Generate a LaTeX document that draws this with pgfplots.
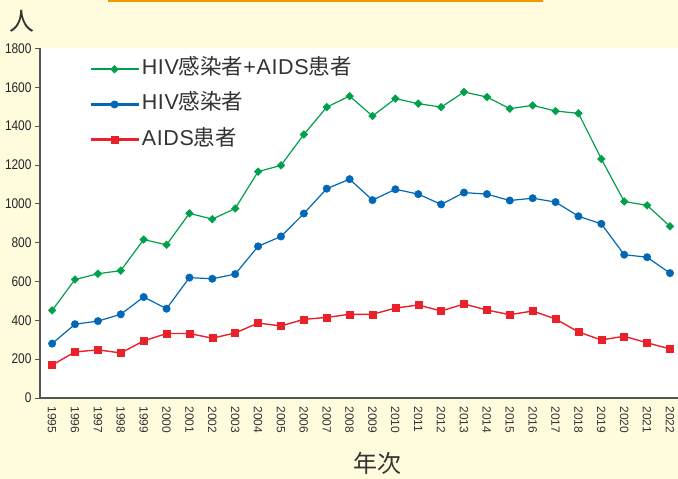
\documentclass[border=0pt]{standalone}
\usepackage{fontspec}
\setmainfont{Noto Sans CJK JP}
\newfontfamily\tickfont[FakeStretch=0.85]{Liberation Sans}
\newfontfamily\xtickfont{Liberation Sans}
\newfontfamily\lat[LetterSpace=3]{Liberation Sans}
\newcommand{\LL}[1]{{\lat #1}}
\usepackage{pgfplots}
\pgfplotsset{compat=1.18}
\definecolor{bgc}{HTML}{FFFBDD}
\definecolor{gr}{HTML}{00A04A}
\definecolor{bl}{HTML}{0068B7}
\definecolor{rd}{HTML}{E8212A}
\definecolor{axc}{HTML}{555555}
\definecolor{txt}{HTML}{333333}
\definecolor{org}{HTML}{F39800}
\begin{document}
\begin{tikzpicture}
\fill[bgc] (0pt,0pt) rectangle (678pt,479pt);
\fill[org] (108pt,477.3pt) rectangle (543pt,479pt);
\useasboundingbox (0pt,0pt) rectangle (678pt,479pt);
\node[text=txt, font=\fontsize{25}{25}\selectfont] at (22pt,458pt) {人};
\node[text=txt, font=\fontsize{24}{24}\selectfont] at (377pt,16pt) {年次};
\begin{axis}[
  at={(40pt,81pt)}, anchor=south west,
  scale only axis, width=638pt, height=349.5pt,
  xmin=1994.47, xmax=2022.35, ymin=0, ymax=1800,
  axis background/.style={fill=white},
  axis x line=bottom, axis y line=left,
  axis line style={-, axc, line width=1.3pt},
  tick align=outside,
  xtick={1995,...,2022},
  major x tick style={draw=none},
  minor x tick num=1,
  minor tick length=5pt,
  minor x tick style={axc, line width=0.8pt},
  ytick={0,200,...,1800},
  major tick length=5pt,
  major y tick style={axc, line width=0.8pt},
  /pgf/number format/1000 sep={},
  /pgf/number format/assume math mode=true,
  xticklabel style={rotate=-90, anchor=west, text=txt, font=\xtickfont\fontsize{12}{12}\selectfont, xshift=0pt},
  yticklabel style={text=black!85, font=\tickfont\fontsize{14}{14}\selectfont},
  legend style={at={(rel axis cs:0,1)}, anchor=north west, xshift=46pt, yshift=-7pt,
    draw=none, fill=none, text=txt, font=\fontsize{21.5}{21.5}\selectfont, row sep=12.3pt,
    nodes={text height=15pt, text depth=4pt, inner sep=2pt}},
  legend cell align=left,
  legend image code/.code={\draw[mark repeat=2,mark phase=2,#1, line width=2.6pt] plot coordinates {(0pt,0pt) (24pt,0pt) (48pt,0pt)};},
]
\addplot[gr, line width=1.2pt, mark=square*, mark size=2.7pt, mark options={rotate=45, fill=gr, draw=gr, line width=0.5pt}] coordinates {
(1995,451) (1996,610) (1997,640) (1998,656) (1999,816) (2000,789) (2001,951) (2002,921) (2003,976) (2004,1166) (2005,1198) (2006,1357) (2007,1498) (2008,1555) (2009,1452) (2010,1542) (2011,1516) (2012,1498) (2013,1576) (2014,1550) (2015,1490) (2016,1507) (2017,1478) (2018,1466) (2019,1231) (2020,1012) (2021,992) (2022,884)};
\addlegendentry{\LL{HIV}感染者\LL{+AIDS}患者}
\addplot[bl, line width=1.2pt, mark=*, mark size=3.7pt, mark options={fill=bl, draw=bl, line width=0.5pt}] coordinates {
(1995,280) (1996,380) (1997,396) (1998,431) (1999,520) (2000,460) (2001,620) (2002,614) (2003,638) (2004,781) (2005,832) (2006,950) (2007,1078) (2008,1127) (2009,1019) (2010,1075) (2011,1050) (2012,997) (2013,1058) (2014,1050) (2015,1017) (2016,1029) (2017,1009) (2018,936) (2019,897) (2020,738) (2021,725) (2022,643)};
\addlegendentry{\LL{HIV}感染者}
\addplot[rd, line width=1.4pt, mark=square*, mark size=3.5pt, mark options={fill=rd, draw=rd, line width=0.5pt}] coordinates {
(1995,170) (1996,237) (1997,248) (1998,232) (1999,294) (2000,332) (2001,332) (2002,308) (2003,335) (2004,386) (2005,371) (2006,405) (2007,415) (2008,431) (2009,431) (2010,463) (2011,479) (2012,448) (2013,484) (2014,453) (2015,429) (2016,448) (2017,407) (2018,340) (2019,299) (2020,318) (2021,284) (2022,253)};
\addlegendentry{\LL{AIDS}患者}
\end{axis}
\end{tikzpicture}
\end{document}
